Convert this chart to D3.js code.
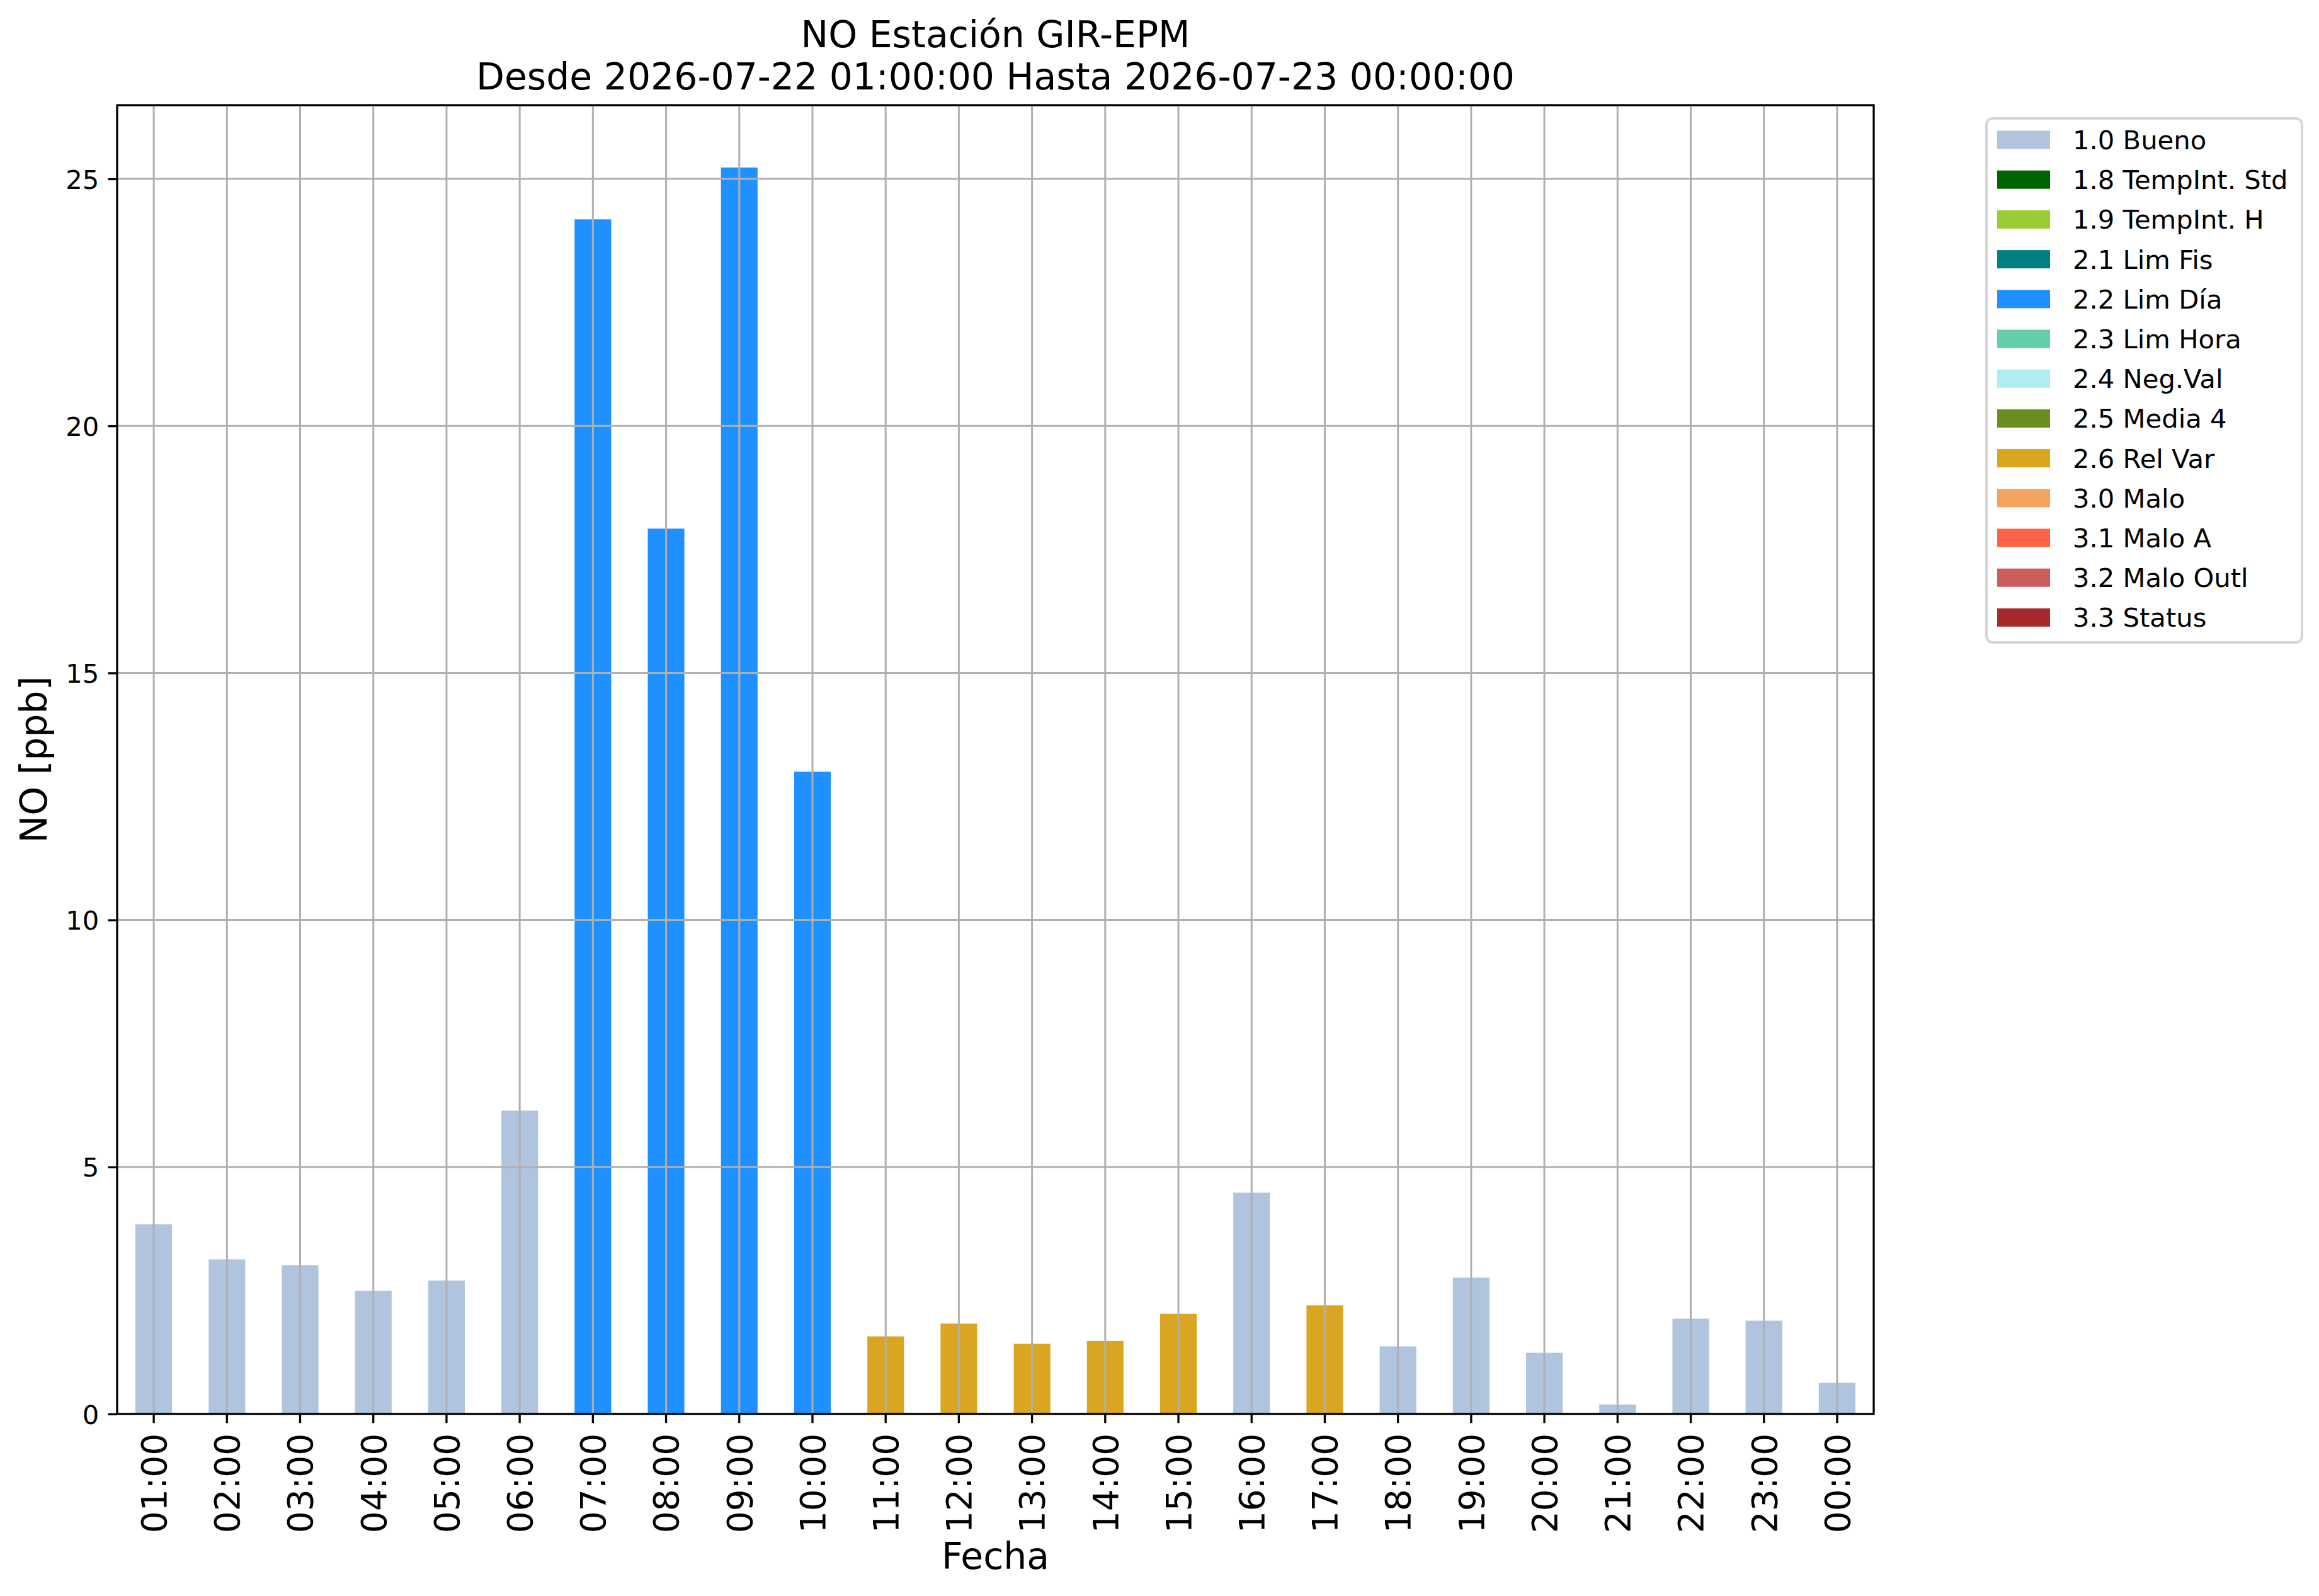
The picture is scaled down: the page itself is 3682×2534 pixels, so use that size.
<!DOCTYPE html>
<html>
<head>
<meta charset="utf-8">
<script src="https://cdn.jsdelivr.net/npm/d3@7"></script>
<style>
  body { margin: 0; background: #fff; }
  text { font-family: "DejaVu Sans", sans-serif; fill: #000; }
</style>
</head>
<body>
<svg id="chart"></svg>
<script>
// Datos
const horas = ["01:00", "02:00", "03:00", "04:00", "05:00", "06:00", "07:00", "08:00",
    "09:00", "10:00", "11:00", "12:00", "13:00", "14:00", "15:00", "16:00",
    "17:00", "18:00", "19:00", "20:00", "21:00", "22:00", "23:00", "00:00"]

const valores = [3.84, 3.13, 3.01, 2.49, 2.70, 6.14, 24.18, 17.92,
    25.23, 13.00, 1.57, 1.83, 1.42, 1.48, 2.03, 4.48,
    2.20, 1.37, 2.76, 1.24, 0.19, 1.93, 1.89, 0.63]

const banderas = ["1.0 Bueno", "1.0 Bueno", "1.0 Bueno", "1.0 Bueno", "1.0 Bueno", "1.0 Bueno",
    "2.2 Lim Día", "2.2 Lim Día", "2.2 Lim Día", "2.2 Lim Día",
    "2.6 Rel Var", "2.6 Rel Var", "2.6 Rel Var", "2.6 Rel Var", "2.6 Rel Var",
    "1.0 Bueno", "2.6 Rel Var", "1.0 Bueno", "1.0 Bueno", "1.0 Bueno",
    "1.0 Bueno", "1.0 Bueno", "1.0 Bueno", "1.0 Bueno"]

const categorias = ["1.0 Bueno", "1.8 TempInt. Std", "1.9 TempInt. H", "2.1 Lim Fis",
    "2.2 Lim Día", "2.3 Lim Hora", "2.4 Neg.Val", "2.5 Media 4", "2.6 Rel Var",
    "3.0 Malo", "3.1 Malo A", "3.2 Malo Outl", "3.3 Status"]

const colores = ["#b0c4de", "#006400", "#9acd32", "#008080", "#1e90ff", "#66cdaa",
    "#afeeee", "#6b8e23", "#daa520", "#f4a460", "#ff6347", "#cd5c5c", "#a52a2a"]

const yTicks = [0, 5, 10, 15, 20, 25]

const titulo = ["NO Estación GIR-EPM", "Desde 2026-07-22 01:00:00 Hasta 2026-07-23 00:00:00"]

// Tamaños
const W = 3682, H = 2534
const margin = { top: 167, right: 707, bottom: 289, left: 186 }
const width = W - margin.left - margin.right
const height = H - margin.top - margin.bottom
const lw = 3.3, tickLen = 14.4, pad = 14.4

const svg = d3.select("#chart")
    .attr("width", W)
    .attr("height", H)

const g = svg.append("g")
    .attr("transform", `translate(${margin.left}, ${margin.top})`)

const x = d3.scaleBand()
    .domain(horas)
    .range([0, width])
    .paddingInner(0.5)
    .paddingOuter(0.25)

const y = d3.scaleLinear()
    .domain([0, d3.max(valores) * 1.05])
    .range([height, 0])

const color = d3.scaleOrdinal()
    .domain(categorias)
    .range(colores)

// Barras
g.append("g")
    .selectAll("rect")
    .data(horas)
    .enter()
    .append("rect")
    .attr("x", d => x(d))
    .attr("y", (d, i) => y(valores[i]))
    .attr("width", x.bandwidth())
    .attr("height", (d, i) => y(0) - y(valores[i]))
    .attr("fill", (d, i) => color(banderas[i]))

// Grilla
const grid = g.append("g").attr("id", "grid")
grid.selectAll("line.v")
    .data(horas)
    .enter()
    .append("line")
    .attr("x1", d => x(d) + x.bandwidth() / 2)
    .attr("x2", d => x(d) + x.bandwidth() / 2)
    .attr("y1", 0)
    .attr("y2", height)
    .attr("stroke", "#b0b0b0")
    .attr("stroke-width", 3)

grid.selectAll("line.h")
    .data(yTicks)
    .enter()
    .append("line")
    .attr("x1", 0)
    .attr("x2", width)
    .attr("y1", d => y(d))
    .attr("y2", d => y(d))
    .attr("stroke", "#b0b0b0")
    .attr("stroke-width", 3)

// Eje X
const xAxis = g.append("g")
    .attr("transform", `translate(0, ${height})`)
    .call(d3.axisBottom(x).tickSize(tickLen).tickPadding(pad))
xAxis.select(".domain").remove()
xAxis.selectAll(".tick line").attr("stroke", "#000").attr("stroke-width", lw)
xAxis.selectAll(".tick text")
    .attr("font-size", 55)
    .attr("font-family", "DejaVu Sans")
    .attr("text-anchor", "end")
    .attr("transform", "rotate(-90)")
    .attr("x", -(tickLen + pad + 2))
    .attr("y", 0)
    .attr("dy", "0.36em")

// Eje Y
const yAxis = g.append("g")
    .call(d3.axisLeft(y).tickValues(yTicks).tickFormat(d3.format("d")).tickSize(tickLen).tickPadding(pad))
yAxis.select(".domain").remove()
yAxis.selectAll(".tick line").attr("stroke", "#000").attr("stroke-width", lw)
yAxis.selectAll(".tick text")
    .attr("font-size", 41.7)
    .attr("font-family", "DejaVu Sans")
    .attr("dy", "0.36em")

// Marco
g.append("rect")
    .attr("x", 0)
    .attr("y", 0)
    .attr("width", width)
    .attr("height", height)
    .attr("fill", "none")
    .attr("stroke", "#000")
    .attr("stroke-width", lw)

// Títulos
svg.append("text")
    .attr("x", margin.left + width / 2)
    .attr("y", 75)
    .attr("text-anchor", "middle")
    .attr("font-size", 58.4)
    .text(titulo[0])
svg.append("text")
    .attr("x", margin.left + width / 2)
    .attr("y", 142)
    .attr("text-anchor", "middle")
    .attr("font-size", 58.4)
    .text(titulo[1])

svg.append("text")
    .attr("x", margin.left + width / 2)
    .attr("y", 2491)
    .attr("text-anchor", "middle")
    .attr("font-size", 58.4)
    .text("Fecha")

svg.append("text")
    .attr("transform", `translate(74, ${margin.top + height / 2}) rotate(-90)`)
    .attr("text-anchor", "middle")
    .attr("font-size", 58.4)
    .text("NO [ppb]")

// Leyenda
const leg = svg.append("g")
    .attr("transform", "translate(3154, 188)")

leg.append("rect")
    .attr("width", 501)
    .attr("height", 832)
    .attr("rx", 10)
    .attr("fill", "#fff")
    .attr("stroke", "#d6d6d6")
    .attr("stroke-width", 4)

const rowH = 63.2
const items = leg.selectAll("g.item")
    .data(categorias)
    .enter()
    .append("g")
    .attr("transform", (d, i) => `translate(0, ${34 + i * rowH})`)

items.append("rect")
    .attr("x", 17)
    .attr("y", -14.5)
    .attr("width", 84)
    .attr("height", 29)
    .attr("fill", d => color(d))

items.append("text")
    .attr("x", 137)
    .attr("y", 0)
    .attr("dy", "0.36em")
    .attr("font-size", 41.7)
    .text(d => d)
</script>
</body>
</html>
